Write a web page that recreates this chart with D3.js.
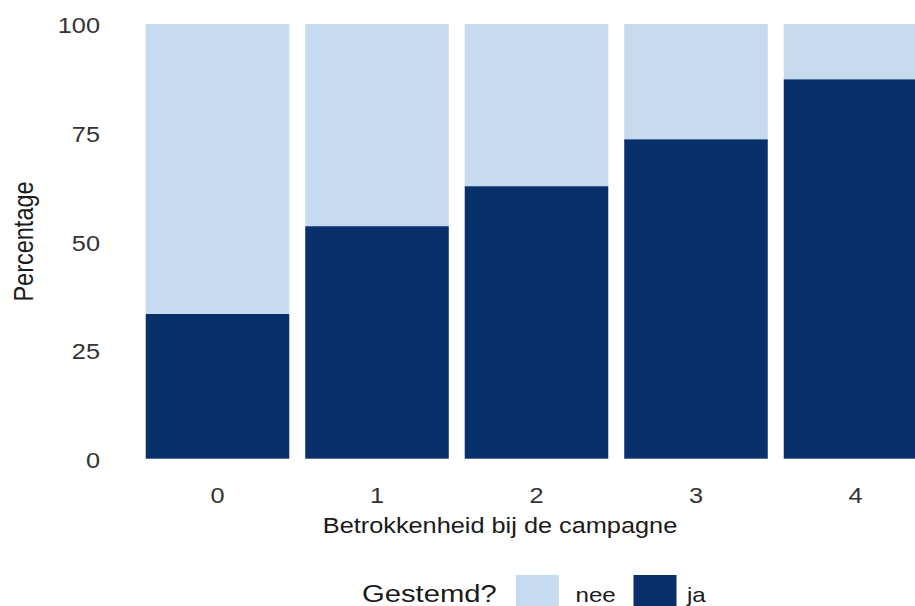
<!DOCTYPE html>
<html>
<head>
<meta charset="utf-8">
<script src="https://cdn.jsdelivr.net/npm/d3@7"></script>
<style>
  html, body { margin: 0; padding: 0; background: #ffffff; }
  svg { display: block; font-family: "Liberation Sans", Arial, Helvetica, sans-serif; }
</style>
</head>
<body>
<svg id="chart" width="915" height="606"></svg>
<script>
// ---- data ----
const categories = ["0", "1", "2", "3", "4"];
const jaValues = [33.3, 53.5, 62.7, 73.5, 87.3];
const neeValues = [66.7, 46.5, 37.3, 26.5, 12.7];
const seriesKeys = ["ja", "nee"];          // stacking order (bottom -> top)
const legendKeys = ["nee", "ja"];          // legend order
const yTicks = [0, 25, 50, 75, 100];
const xTitle = "Betrokkenheid bij de campagne";
const yTitle = "Percentage";
const legendTitle = "Gestemd?";

const colors = { nee: "#c6dbef", ja: "#08306b" };
const STRETCH = 1.15;

const svg = d3.select("#chart");
const rows = categories.map((c, i) => ({ cat: c, ja: jaValues[i], nee: neeValues[i] }));
const stacked = d3.stack().keys(seriesKeys)(rows);

const step = 159.5;
const firstCenter = 217.5;
const x = d3.scaleBand()
  .domain(categories)
  .range([firstCenter - step / 2, firstCenter + (categories.length - 0.5) * step])
  .paddingInner(0.1)
  .paddingOuter(0.05);

const y = d3.scaleLinear().domain([0, 100]).range([458.7, 24]);

function stretchText(sel, factor) {
  sel.each(function () {
    const w = this.getComputedTextLength();
    d3.select(this).attr("textLength", w * factor).attr("lengthAdjust", "spacingAndGlyphs");
  });
}

// bars
svg.append("g").selectAll("g")
  .data(stacked)
  .join("g")
  .attr("fill", d => colors[d.key])
  .selectAll("rect")
  .data(d => d)
  .join("rect")
  .attr("x", d => x(d.data.cat))
  .attr("width", x.bandwidth())
  .attr("y", d => y(d[1]))
  .attr("height", d => y(d[0]) - y(d[1]));

// y axis (labels only)
const yAxis = svg.append("g")
  .attr("transform", "translate(100,0)")
  .call(d3.axisLeft(y).tickValues(yTicks).tickSize(0).tickPadding(0).tickFormat(d3.format("d")));
yAxis.select(".domain").remove();
yAxis.selectAll("text")
  .attr("font-size", 22)
  .attr("font-family", "Liberation Sans, Arial, sans-serif")
  .attr("fill", "#333333")
  .attr("x", 0)
  .attr("dy", "0.4em")
  .call(stretchText, STRETCH);

// x axis (labels only)
const xAxis = svg.append("g")
  .attr("transform", "translate(0,480)")
  .call(d3.axisBottom(x).tickSize(0).tickPadding(0));
xAxis.select(".domain").remove();
xAxis.selectAll("text")
  .attr("font-size", 22)
  .attr("font-family", "Liberation Sans, Arial, sans-serif")
  .attr("fill", "#333333")
  .attr("y", 0)
  .attr("dy", "0.71em")
  .attr("transform", "translate(0,7)")
  .call(stretchText, STRETCH);

// x title
svg.append("text")
  .attr("x", 500)
  .attr("y", 532.5)
  .attr("text-anchor", "middle")
  .attr("font-size", 22)
  .attr("fill", "#1a1a1a")
  .text(xTitle)
  .call(stretchText, STRETCH);

// y title (rotated; stretch applies across glyph height)
svg.append("text")
  .attr("transform", `translate(33,241.5) rotate(-90) scale(1,${STRETCH})`)
  .attr("text-anchor", "middle")
  .attr("font-size", 23.5)
  .attr("fill", "#1a1a1a")
  .text(yTitle);

// legend
const legend = svg.append("g");
legend.append("text")
  .attr("x", 362)
  .attr("y", 601.7)
  .attr("font-size", 23)
  .attr("fill", "#1a1a1a")
  .text(legendTitle)
  .call(stretchText, 1.27);

const keyX = { nee: 516, ja: 633.5 };
const labelX = { nee: 575.5, ja: 687 };
legendKeys.forEach(k => {
  legend.append("rect")
    .attr("x", keyX[k])
    .attr("y", 575)
    .attr("width", 43)
    .attr("height", 43)
    .attr("fill", colors[k]);
  legend.append("text")
    .attr("x", labelX[k])
    .attr("y", 601.7)
    .attr("font-size", 21)
    .attr("fill", "#1a1a1a")
    .text(k)
    .call(stretchText, STRETCH);
});
</script>
</body>
</html>
